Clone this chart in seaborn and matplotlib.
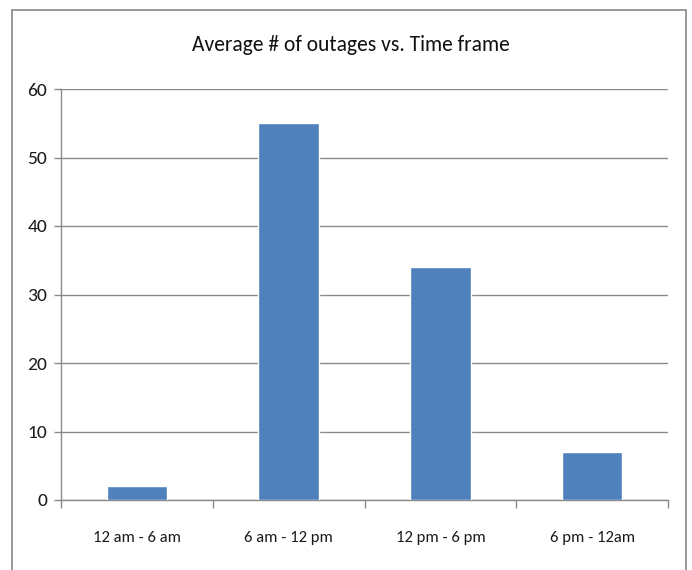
import matplotlib
matplotlib.use("Agg")
import matplotlib.pyplot as plt
from matplotlib.patches import Rectangle
import seaborn as sns
import pandas as pd

categories = ["12 am - 6 am", "6 am - 12 pm", "12 pm - 6 pm", "6 pm - 12am"]
outages = [2, 55, 34, 7]
y_ticks = [0, 10, 20, 30, 40, 50, 60]
title = "Average # of outages vs. Time frame"

sns.set_theme(style="white")
plt.rcParams["font.family"] = ["Carlito", "DejaVu Sans"]

df = pd.DataFrame({"frame": categories, "count": outages})

fig = plt.figure(figsize=(6.92, 5.70), dpi=100)
ax = fig.add_axes([61 / 692, 1 - 500 / 570, (668 - 61) / 692, (500 - 89) / 570])

# chart area frame
fig.patches.append(Rectangle((12 / 692, -0.01), (686 - 12) / 692, 1 - 10 / 570 + 0.01,
                             transform=fig.transFigure, fill=False,
                             edgecolor="#888888", linewidth=1.2))

sns.barplot(data=df, x="frame", y="count", color="#4F81BD", width=0.4,
            saturation=1, ax=ax, zorder=3)

ax.set_ylim(0, 60)
ax.set_xlim(-0.5, 3.5)
ax.set_yticks(y_ticks)
ax.set_yticklabels([str(v) for v in y_ticks])
ax.yaxis.grid(True, color="#8a8a8a", linewidth=1.0, zorder=0)
ax.set_axisbelow(True)

for s in ["top", "right"]:
    ax.spines[s].set_visible(False)
for s in ["left", "bottom"]:
    ax.spines[s].set_color("#8a8a8a")
    ax.spines[s].set_linewidth(1.0)

ax.set_xticks([-0.5, 0.5, 1.5, 2.5, 3.5], minor=True)
ax.tick_params(axis="x", which="minor", length=6, width=1.0, color="#8a8a8a",
               direction="out", bottom=True)
ax.tick_params(axis="x", which="major", length=0, pad=22, labelsize=12,
               labelcolor="#1a1a1a")
ax.tick_params(axis="y", which="major", length=5, width=1.0, color="#8a8a8a",
               direction="out", left=True, pad=5, labelsize=14, labelcolor="#1a1a1a")
ax.set_xlabel("")
ax.set_ylabel("")

fig.text(351 / 692, 1 - 45 / 570, title, ha="center", va="center",
         fontsize=15.5, color="#111111")

fig.savefig("out.png", dpi=100)
